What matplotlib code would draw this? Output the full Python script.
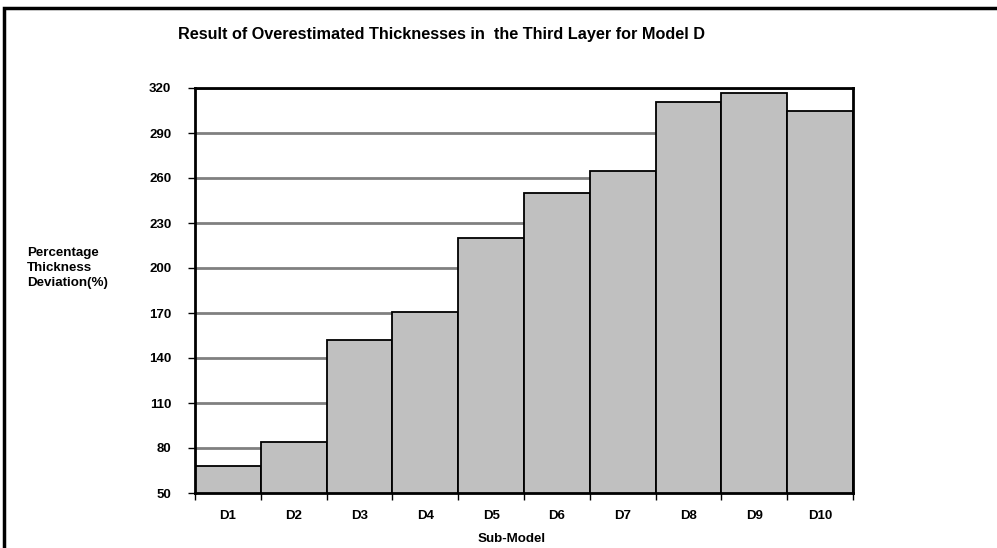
import numpy as np
import matplotlib.pyplot as plt
from matplotlib.patches import Rectangle

# Sub-model results
sub_models = ["D1", "D2", "D3", "D4", "D5", "D6", "D7", "D8", "D9", "D10"]
deviation = [68, 84, 152, 171, 220, 250, 265, 311, 317, 305]
y_ticks = [50, 80, 110, 140, 170, 200, 230, 260, 290, 320]

plt.rcParams['font.family'] = ['Liberation Sans', 'DejaVu Sans']
plt.rcParams['font.weight'] = 'bold'

fig = plt.figure(figsize=(9.97, 5.48), dpi=100)
ax = fig.add_axes([195 / 997, 1 - 493 / 548, 658 / 997, 405 / 548])

pos = np.arange(len(sub_models))
ax.bar(pos, deviation, width=1.0, align='edge', bottom=0,
       color='#c0c0c0', edgecolor='black', linewidth=1.3, zorder=3)

ax.set_xlim(0, len(sub_models))
ax.set_ylim(y_ticks[0], y_ticks[-1])
ax.set_yticks(y_ticks)
ax.set_yticklabels([str(t) for t in y_ticks], fontsize=9.5, fontweight='bold')

# ticks on category boundaries, labels centred under bars
ax.set_xticks(np.arange(len(sub_models) + 1))
ax.set_xticklabels([])
ax.set_xticks(pos + 0.5, minor=True)
ax.set_xticklabels(sub_models, minor=True, fontsize=9.5, fontweight='bold')
ax.tick_params(axis='x', which='major', length=5, width=1, direction='out')
ax.tick_params(axis='x', which='minor', length=0, pad=12.5)
ax.tick_params(axis='y', length=5, width=1, direction='out', pad=12)

ax.yaxis.grid(True, color='#808080', linewidth=2, zorder=0)
ax.set_axisbelow(True)
for side in ['left', 'bottom', 'top', 'right']:
    ax.spines[side].set_linewidth(2)
    ax.spines[side].set_color('black')
    ax.spines[side].set_zorder(4)

fig.text(441 / 997, 1 - 34 / 548,
         "Result of Overestimated Thicknesses in  the Third Layer for Model D",
         ha='center', va='center', fontsize=11.7, fontweight='bold')
fig.text(27 / 997, 1 - 268 / 548, "Percentage\nThickness\nDeviation(%)",
         ha='left', va='center', fontsize=9.6, fontweight='bold', linespacing=1.3)
fig.text(512 / 997, 1 - 539 / 548, "Sub-Model",
         ha='center', va='center', fontsize=9.6, fontweight='bold')

# outer frame around the chart
fig.patches.append(Rectangle((4 / 997, -0.05), 1.2, 1 - 8 / 548 + 0.05,
                             transform=fig.transFigure, fill=False,
                             edgecolor='black', linewidth=2.5))

fig.savefig("out.png", dpi=100)
